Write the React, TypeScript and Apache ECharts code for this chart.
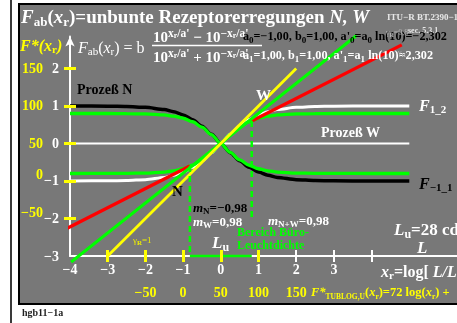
import React, { useEffect, useRef } from "react";
import * as echarts from "echarts";

// Sampled abscissae for the saturating receptor curves
const curveX = [-4, -3, -2.5, -2, -1.5, -1.25, -1, -0.75, -0.5, -0.25, 0, 0.25, 0.5, 0.75, 1, 1.25, 1.5, 2, 2.5, 3, 4, 5];
// Process W (white) and process N (black)
const processW = [-1.0, -0.995, -0.987, -0.964, -0.905, -0.848, -0.762, -0.635, -0.462, -0.245, 0, 0.245, 0.462, 0.635, 0.762, 0.848, 0.905, 0.964, 0.987, 0.995, 1.0, 1.0];
const processN = [1.0, 0.995, 0.987, 0.964, 0.905, 0.848, 0.762, 0.635, 0.462, 0.245, 0, -0.245, -0.462, -0.635, -0.762, -0.848, -0.905, -0.964, -0.987, -0.995, -1.0, -1.0];
// Green curves with slope 0.98 at the origin
const greenW = [-0.8, -0.799, -0.796, -0.788, -0.761, -0.729, -0.673, -0.58, -0.437, -0.238, 0, 0.238, 0.437, 0.58, 0.673, 0.729, 0.761, 0.788, 0.796, 0.799, 0.8, 0.8];
const greenN = [0.8, 0.799, 0.796, 0.788, 0.761, 0.729, 0.673, 0.58, 0.437, 0.238, 0, -0.238, -0.437, -0.58, -0.673, -0.729, -0.761, -0.788, -0.796, -0.799, -0.8, -0.8];

// Straight reference lines [x, y]
const yellowLine = [[-3, -3], [2, 2]];
const greenLine = [[-3.97, -3.16], [3.6, 2.88]];
const redLow = [[-4.8, -2.63], [-0.82, -0.6]];
const redHigh = [[0.82, 0.6], [4.8, 2.63]];
const zeroLine = [[-4, 0], [5, 0]];

// Office luminance range bracket
const officeLeft = [[-0.82, -0.6], [-0.82, -3]];
const officeBase = [[-0.82, -3], [0.82, -3]];
const officeRight = [[0.82, 0.6], [0.82, -2.0]];

// Axis ticks and labels
const xLabelValues = [-4, -3, -2, -1, 0, 1, 2, 3];
const xYellowTicks = [-3, -2, -1, 0, 1];
const xWhiteTicks = [2, 3, 4];
const fStarXValues = [-2, -1, 0, 1, 2];
const fStarXLabels = ["−50", "0", "50", "100", "150"];
const yLabelValues = [-3, -2, -1, 0, 1, 2];
const fStarYValues = [-2, -1, 0, 1, 2];
const fStarYLabels = ["−50", "0", "50", "100", "150"];

const SERIF = '"Liberation Serif", "Times New Roman", serif';
const X_MIN = -4;
const X_MAX = 6.265;
const Y_MIN = -3;
const Y_MAX = 2.85;

const minus = (v: number) => (v < 0 ? "−" + Math.abs(v) : String(v));
const pick = (vals: number[], labels: string[]) => (v: number) => {
  const i = vals.indexOf(v);
  return i >= 0 ? labels[i] : "";
};

const st = (size: number, fill: string, o: any = {}) => ({
  fontFamily: SERIF,
  fontSize: size,
  fontWeight: "bold",
  fill,
  ...o,
});
const sub = (size: number, fill: string, d: number, o: any = {}) => st(size, fill, { padding: [d * 2, 0, 0, 0], ...o });
const sup = (size: number, fill: string, u: number, o: any = {}) => st(size, fill, { padding: [0, 0, u * 2, 0], ...o });

const T = (x: number, y: number, text: string, rich: any) => ({
  type: "text",
  x,
  y,
  z: 100,
  silent: true,
  style: { text, rich, align: "left", verticalAlign: "middle" },
});

const pairs = (xs: number[], ys: number[]) => xs.map((x, i) => [x, ys[i]]);

const lineSeries = (data: any, color: string, width: number, extra: any = {}) => ({
  type: "line",
  data,
  symbol: "none",
  silent: true,
  clip: false,
  xAxisIndex: 0,
  yAxisIndex: 0,
  lineStyle: { color, width, ...(extra.lineStyle || {}) },
  ...(extra.smooth !== undefined ? { smooth: extra.smooth, smoothMonotone: "x" } : {}),
});

const W = "#ffffff";
const K = "#000000";
const Y = "#ffff00";
const G = "#00ff00";

export default function App() {
  const ref = useRef<HTMLDivElement>(null);

  useEffect(() => {
    if (!ref.current) return;
    const chart = echarts.init(ref.current, undefined, { renderer: "svg" });

    const baseX = {
      type: "value",
      min: X_MIN,
      max: X_MAX,
      interval: 1,
      position: "bottom",
      splitLine: { show: false },
    };
    const baseY = {
      type: "value",
      min: Y_MIN,
      max: Y_MAX,
      interval: 1,
      position: "left",
      splitLine: { show: false },
    };
    const labelFont = { fontFamily: SERIF, fontWeight: "bold", fontSize: 14 };

    const option: any = {
      animation: false,
      grid: { left: 70, right: 0, top: 36.6, bottom: 67, containLabel: false },
      xAxis: [
        {
          ...baseX,
          axisLine: { show: true, onZero: false, lineStyle: { color: W, width: 2 } },
          axisTick: { show: false },
          axisLabel: { show: true, customValues: xLabelValues, formatter: minus, color: W, margin: 6, ...labelFont },
        },
        {
          ...baseX,
          offset: -6,
          z: 5,
          axisLine: { show: false, onZero: false },
          axisTick: { show: true, customValues: xYellowTicks, length: 12, lineStyle: { color: Y, width: 3 } },
          axisLabel: { show: false },
        },
        {
          ...baseX,
          offset: -6,
          z: 5,
          axisLine: { show: false, onZero: false },
          axisTick: { show: true, customValues: xWhiteTicks, length: 12, lineStyle: { color: W, width: 2 } },
          axisLabel: { show: false },
        },
        {
          ...baseX,
          axisLine: { show: false, onZero: false },
          axisTick: { show: false },
          axisLabel: {
            show: true,
            customValues: fStarXValues,
            formatter: pick(fStarXValues, fStarXLabels),
            color: Y,
            margin: 29,
            ...labelFont,
          },
        },
      ],
      yAxis: [
        {
          ...baseY,
          axisLine: {
            show: true,
            onZero: false,
            symbol: ["none", "arrow"],
            symbolSize: [7, 10],
            lineStyle: { color: W, width: 2 },
          },
          axisTick: { show: false },
          axisLabel: { show: true, customValues: yLabelValues, formatter: minus, color: W, margin: 11, ...labelFont },
        },
        {
          ...baseY,
          offset: -6,
          z: 5,
          axisLine: { show: false, onZero: false },
          axisTick: { show: true, customValues: fStarYValues, length: 12, lineStyle: { color: Y, width: 3 } },
          axisLabel: { show: false },
        },
        {
          ...baseY,
          axisLine: { show: false, onZero: false },
          axisTick: { show: false },
          axisLabel: {
            show: true,
            customValues: fStarYValues,
            margin: 27,
            formatter: (v: number) => {
              const s = pick(fStarYValues, fStarYLabels)(v);
              return v < 0 ? "{lo|" + s + "}" : "{hi|" + s + "}";
            },
            rich: {
              hi: { color: Y, ...labelFont },
              lo: { color: Y, ...labelFont, padding: [0, 0, 12, 0] },
            },
          },
        },
      ],
      series: [
        lineSeries(zeroLine, W, 2),
        lineSeries(pairs(curveX, processN), K, 3.5, { smooth: 0.3 }),
        lineSeries(pairs(curveX, processW), W, 3, { smooth: 0.3 }),
        lineSeries(pairs(curveX, greenN), G, 3.3, { smooth: 0.3 }),
        lineSeries(pairs(curveX, greenW), G, 3.3, { smooth: 0.3 }),
        lineSeries(redLow, "#ff0000", 3.3),
        lineSeries(redHigh, "#ff0000", 3.3),
        lineSeries(greenLine, G, 3),
        lineSeries(yellowLine, Y, 2.8),
        lineSeries(officeLeft, G, 2.5, { lineStyle: { type: [6, 4] } }),
        lineSeries(officeBase, G, 2.5),
        lineSeries(officeRight, G, 2.5, { lineStyle: { type: [6, 4] } }),
      ],
      graphic: [
        {
          type: "line",
          z: -10,
          silent: true,
          shape: { x1: 11, y1: 0, x2: 11, y2: 323 },
          style: { stroke: "#3a3a3a", lineWidth: 2 },
        },
        {
          type: "rect",
          z: -10,
          silent: true,
          shape: { x: 19, y: 4, width: 450, height: 300 },
          style: { fill: "#787878", stroke: "#000", lineWidth: 2 },
        },
        // title
        T(21, 16, "{i|F}{s|ab}{n|(}{i|x}{s|r}{n|)=unbunte Rezeptorerregungen }{i|N, W}", {
          i: st(19, W, { fontStyle: "italic" }),
          s: sub(13, W, 5),
          n: st(19, W),
        }),
        T(387, 17, "{a|ITU−R BT.2390−1}", { a: st(9, "#e8e8e8") }),
        T(408, 30, "{a|sec. 5.3.1}", { a: st(8, "#e8e8e8") }),
        // left axis caption
        T(20, 45, "{i|F*(x}{s|r}{i|)}", { i: st(16, Y, { fontStyle: "italic" }), s: sub(11, Y, 4) }),
        // formula
        T(78, 47, "{i|F}{s|ab}{n|(}{i|x}{s|r}{n|) = b}", {
          i: st(16, W, { fontStyle: "italic", fontWeight: "normal" }),
          s: sub(11, W, 4, { fontWeight: "normal" }),
          n: st(16, W, { fontWeight: "normal" }),
        }),
        T(153, 37, "{n|10}{p|x}{q|r}{p|/a'}{n| − 10}{p|−x}{q|r}{p|/a'}", {
          n: st(15, W),
          p: sup(11.5, W, 4),
          q: sup(8, W, 2),
        }),
        {
          type: "line",
          z: 100,
          silent: true,
          shape: { x1: 152, y1: 45.5, x2: 262, y2: 45.5 },
          style: { stroke: W, lineWidth: 1.5 },
        },
        T(153, 57, "{n|10}{p|x}{q|r}{p|/a'}{n| + 10}{p|−x}{q|r}{p|/a'}", {
          n: st(15, W),
          p: sup(11.5, W, 4),
          q: sup(8, W, 2),
        }),
        T(243, 36, "{n|a}{s|0}{n|=−1,00, b}{s|0}{n|=1,00, a'}{s|0}{n|=a}{s|0}{n| ln(10)=−2,302}", {
          n: st(12.2, K),
          s: sub(9, K, 4),
        }),
        T(243, 55, "{n|a}{s|1}{n|=1,00, b}{s|1}{n|=1,00, a'}{s|1}{n|=a}{s|1}{n| ln(10)=2,302}", {
          n: st(12.2, W),
          s: sub(9, W, 4),
        }),
        T(386, 32, "{g|γ}{s|R}{g|=0,8}", { g: st(8, "#b4b4b4", { fontWeight: "normal" }), s: sub(6, "#b4b4b4", 3) }),
        T(398, 52, "{g|γ}{s|R}", { g: st(8, "#b4b4b4", { fontWeight: "normal" }), s: sub(6, "#b4b4b4", 3) }),
        // plot annotations
        T(77, 89, "{a|Prozeß N}", { a: st(14, K) }),
        T(256, 95, "{a|W}", { a: st(15, W) }),
        T(321, 132, "{a|Prozeß W}", { a: st(14, W) }),
        T(419, 105, "{i|F}{s|1_2}", { i: st(16, W, { fontStyle: "italic" }), s: sub(11, W, 4) }),
        T(419, 183, "{i|F}{s|−1_1}", { i: st(16, K, { fontStyle: "italic" }), s: sub(11, K, 4) }),
        T(172, 191, "{a|N}", { a: st(15, K) }),
        T(193, 207, "{i|m}{s|N}{n|=−0,98}", { i: st(13, K, { fontStyle: "italic" }), s: sub(9, K, 4), n: st(13, K) }),
        T(193, 221, "{i|m}{s|W}{n|=0,98}", { i: st(13, W, { fontStyle: "italic" }), s: sub(9, W, 4), n: st(13, W) }),
        T(268, 220, "{i|m}{s|N+W}{n|=0,98}", { i: st(13, W, { fontStyle: "italic" }), s: sub(9, W, 4), n: st(13, W) }),
        T(237, 232, "{a|Bereich Büro-}", { a: st(12, G) }),
        T(237, 245, "{a|Leuchtdichte}", { a: st(12, G) }),
        T(212, 242, "{i|L}{s|u}", { i: st(17, W, { fontStyle: "italic" }), s: sub(12, W, 5) }),
        T(133, 240, "{g|γ}{s|R}{g|=1}", { g: st(9, "#eeee00", { fontWeight: "normal" }), s: sub(7, "#eeee00", 3) }),
        T(394, 229, "{i|L}{s|u}{n|=28 cd/m²}", { i: st(17, W, { fontStyle: "italic" }), s: sub(12, W, 5), n: st(17, W) }),
        T(417, 247, "{i|L}", { i: st(17, W, { fontStyle: "italic" }) }),
        T(381, 271, "{i|x}{s|r}{n|=log[ }{i|L/L}{s|u}{n| ]}", {
          i: st(16, W, { fontStyle: "italic" }),
          s: sub(11, W, 4),
          n: st(16, W),
        }),
        T(311, 292, "{i|F*}{s|TUBLOG,U}{n|(}{i|x}{s|r}{n|)=72 log(}{i|x}{s|r}{n|) +}", {
          i: st(12.5, Y, { fontStyle: "italic" }),
          s: sub(7.5, Y, 4),
          n: st(12.5, Y),
        }),
        T(22, 312, "{a|hgb11−1a}", { a: st(10, "#222") }),
      ],
    };

    chart.setOption(option);
    return () => chart.dispose();
  }, []);

  return <div ref={ref} style={{ position: "fixed", left: 0, top: 0, width: 457, height: 323 }} />;
}
